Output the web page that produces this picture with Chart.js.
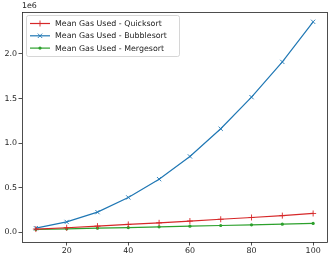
<!DOCTYPE html>
<html>
<head>
<meta charset="utf-8">
<script src="https://cdn.jsdelivr.net/npm/chart.js@4"></script>
<style>
  html, body { margin: 0; padding: 0; background: #fff; }
  #wrap { width: 334px; height: 259px; }
</style>
</head>
<body>
<div id="wrap"><canvas id="gasChart"></canvas></div>
<script>
"use strict";

// 配列サイズ
const sizes = [10, 20, 30, 40, 50, 60, 70, 80, 90, 100];
// 平均ガス使用量 (読み取り値)
const quicksortGas = [35000, 50000, 68000, 87000, 105000, 125000, 145000, 165000, 186000, 210000];
const bubblesortGas = [45000, 115000, 225000, 390000, 595000, 850000, 1160000, 1515000, 1910000, 2360000];
const mergesortGas = [30000, 38000, 45000, 52000, 60000, 68000, 75000, 83000, 90000, 98000];
const seriesNames = ["Mean Gas Used - Quicksort", "Mean Gas Used - Bubblesort", "Mean Gas Used - Mergesort"];
// 目盛り
const xTicks = [20, 40, 60, 80, 100];
const yTicks = [0, 500000, 1000000, 1500000, 2000000];

const FONT = "DejaVu Sans";
const FONT_SIZE = 7.9;
const AXIS = "#222";

function toPoints(arr) {
  return sizes.map((s, i) => ({ x: s, y: arr[i] }));
}

// 枠線・指数表記・凡例
const framePlugin = {
  id: "frame",
  afterDraw(chart) {
    const ctx = chart.ctx;
    const a = chart.chartArea;
    ctx.save();
    ctx.strokeStyle = AXIS;
    ctx.lineWidth = 0.8;
    ctx.strokeRect(a.left + 0.5, a.top + 0.5, a.right - a.left, a.bottom - a.top);

    ctx.fillStyle = AXIS;
    ctx.font = FONT_SIZE + "px '" + FONT + "'";
    ctx.textBaseline = "bottom";
    ctx.textAlign = "left";
    ctx.fillText("1e6", a.left, a.top - 2);

    // 凡例
    const bx = a.left + 4, by = a.top + 3, bw = 153, bh = 41;
    ctx.fillStyle = "rgba(255,255,255,0.8)";
    ctx.strokeStyle = "#cccccc";
    ctx.lineWidth = 0.8;
    ctx.beginPath();
    ctx.roundRect(bx + 0.5, by + 0.5, bw, bh, 2);
    ctx.fill();
    ctx.stroke();

    chart.data.datasets.forEach((ds, i) => {
      const y = by + 8.5 + i * 12.3;
      const x0 = bx + 4, x1 = bx + 24;
      ctx.strokeStyle = ds.borderColor;
      ctx.lineWidth = 1.2;
      ctx.beginPath();
      ctx.moveTo(x0, y);
      ctx.lineTo(x1, y);
      ctx.stroke();
      const mx = (x0 + x1) / 2;
      ctx.lineWidth = 0.9;
      ctx.beginPath();
      if (ds.pointStyle === "cross") {
        ctx.moveTo(mx - 3, y); ctx.lineTo(mx + 3, y);
        ctx.moveTo(mx, y - 3); ctx.lineTo(mx, y + 3);
        ctx.stroke();
      } else if (ds.pointStyle === "crossRot") {
        ctx.moveTo(mx - 2.2, y - 2.2); ctx.lineTo(mx + 2.2, y + 2.2);
        ctx.moveTo(mx - 2.2, y + 2.2); ctx.lineTo(mx + 2.2, y - 2.2);
        ctx.stroke();
      } else {
        ctx.fillStyle = ds.borderColor;
        ctx.arc(mx, y, 1.6, 0, Math.PI * 2);
        ctx.fill();
      }
      ctx.fillStyle = AXIS;
      ctx.textBaseline = "middle";
      ctx.fillText(ds.label, x1 + 5, y + 0.5);
    });
    ctx.restore();
  }
};

const context = document.getElementById("gasChart").getContext("2d");
new Chart(context, {
  type: "line",
  data: {
    datasets: [
      {
        label: seriesNames[0],
        data: toPoints(quicksortGas),
        borderColor: "#d62728",
        backgroundColor: "#d62728",
        pointStyle: "cross",
        pointRadius: 3,
        pointBorderWidth: 0.9
      },
      {
        label: seriesNames[1],
        data: toPoints(bubblesortGas),
        borderColor: "#1f77b4",
        backgroundColor: "#1f77b4",
        pointStyle: "crossRot",
        pointRadius: 3,
        pointBorderWidth: 0.9
      },
      {
        label: seriesNames[2],
        data: toPoints(mergesortGas),
        borderColor: "#2ca02c",
        backgroundColor: "#2ca02c",
        pointStyle: "circle",
        pointRadius: 1.6,
        pointBorderWidth: 0
      }
    ]
  },
  options: {
    responsive: true,
    maintainAspectRatio: false,
    animation: false,
    elements: { line: { borderWidth: 1.2, tension: 0 } },
    layout: { padding: { top: 12, right: 7, left: 0, bottom: 0 } },
    plugins: {
      legend: { display: false },
      tooltip: { enabled: false }
    },
    scales: {
      x: {
        type: "linear",
        min: 5.5,
        max: 104.5,
        afterBuildTicks: (axis) => { axis.ticks = xTicks.map(v => ({ value: v })); },
        afterFit: (axis) => { axis.height = 17; },
        grid: { drawOnChartArea: false, drawTicks: true, tickLength: 3.5, color: AXIS, lineWidth: 0.8 },
        border: { display: false },
        ticks: { color: AXIS, padding: 1, maxRotation: 0, font: { family: FONT, size: FONT_SIZE } }
      },
      y: {
        type: "linear",
        min: -110000,
        max: 2470000,
        afterBuildTicks: (axis) => { axis.ticks = yTicks.map(v => ({ value: v })); },
        afterFit: (axis) => { axis.width = 22; },
        grid: { drawOnChartArea: false, drawTicks: true, tickLength: 3.5, color: AXIS, lineWidth: 0.8 },
        border: { display: false },
        ticks: {
          color: AXIS,
          padding: 1.5,
          font: { family: FONT, size: FONT_SIZE },
          callback: (v) => (v / 1e6).toFixed(1)
        }
      }
    }
  },
  plugins: [framePlugin]
});
</script>
</body>
</html>
